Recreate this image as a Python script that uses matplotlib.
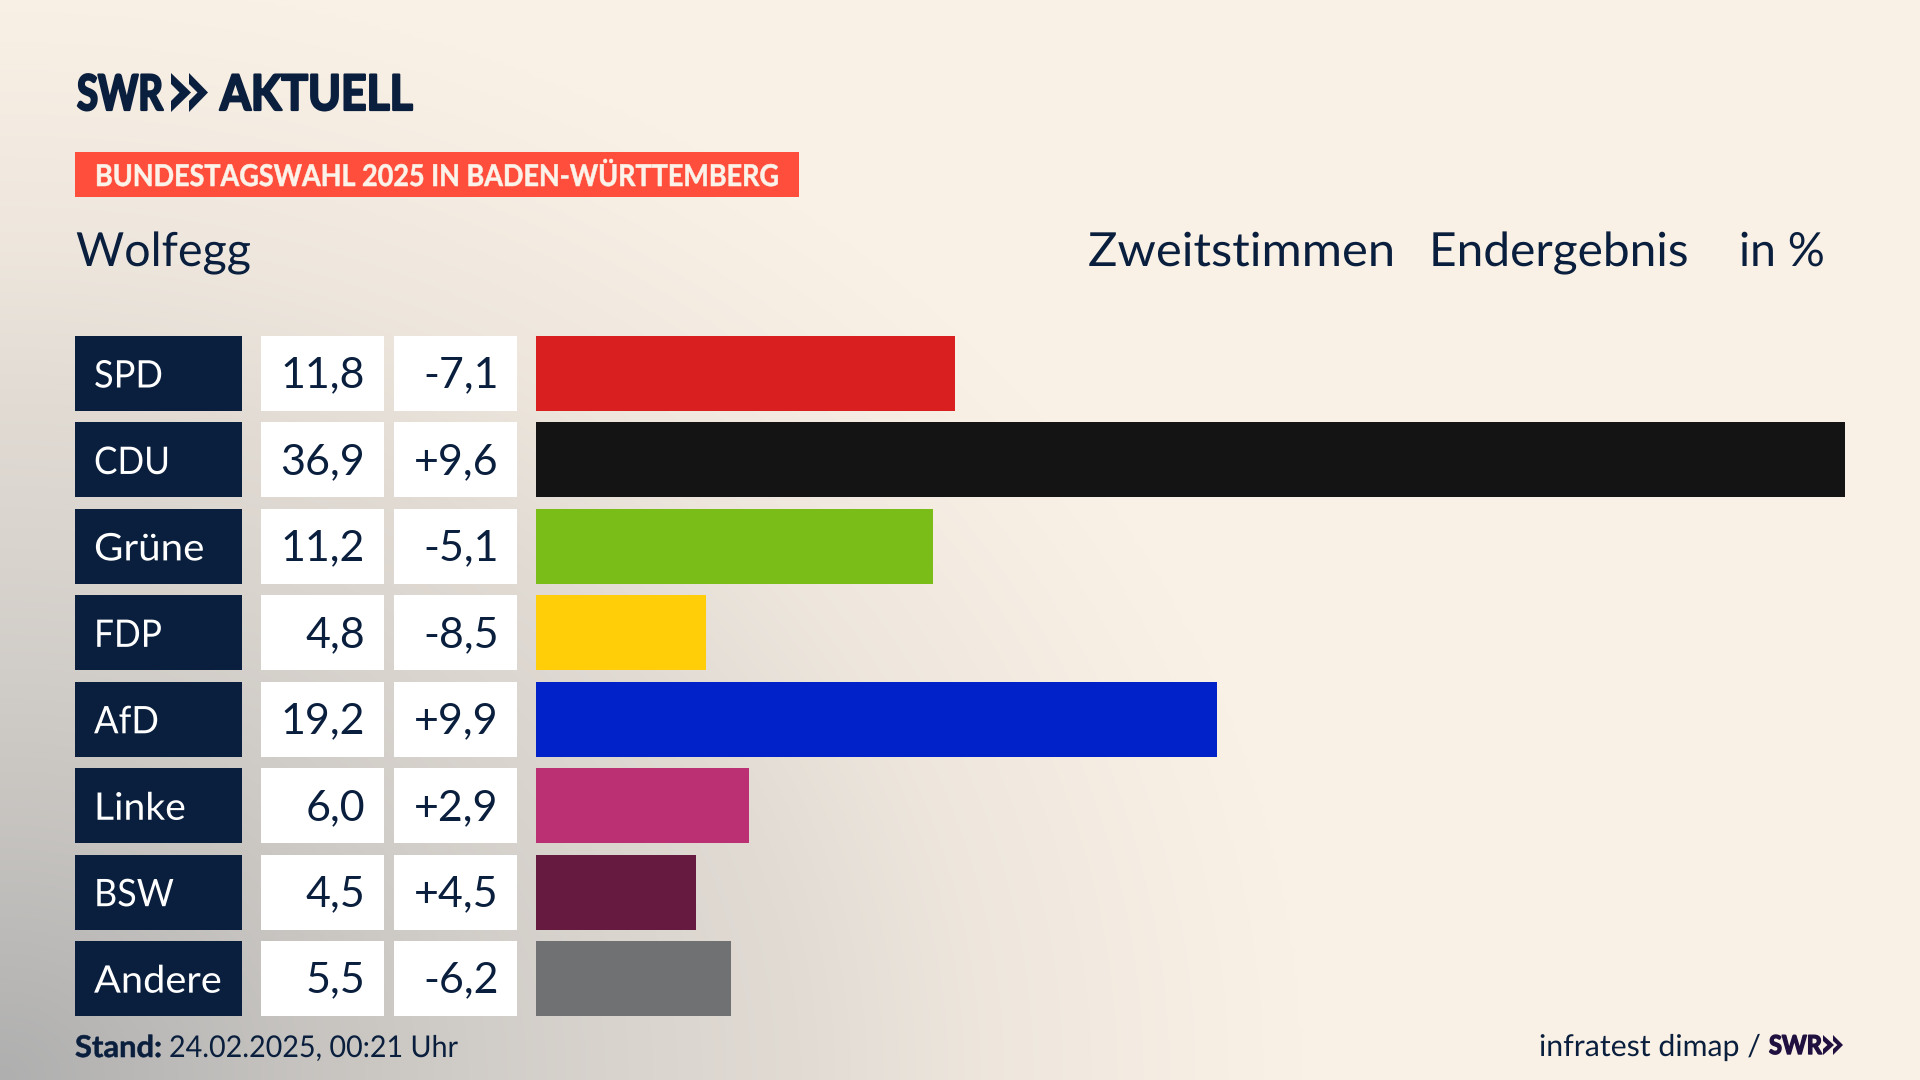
import numpy as np
import matplotlib
matplotlib.use("Agg")
import matplotlib.pyplot as plt
from matplotlib.patches import Rectangle, Polygon
from matplotlib.colors import to_rgb
from matplotlib.patheffects import AbstractPathEffect
from matplotlib.transforms import Affine2D

parties = ["SPD", "CDU", "Grüne", "FDP", "AfD", "Linke", "BSW", "Andere"]
shares = [11.8, 36.9, 11.2, 4.8, 19.2, 6.0, 4.5, 5.5]
changes = [-7.1, 9.6, -5.1, -8.5, 9.9, 2.9, 4.5, -6.2]
colors = ["#D91F1F", "#141414", "#7ABD18", "#FFCE09", "#0022C8", "#BB3073", "#671A3F", "#707173"]
label_right = [163, 170, 204.5, 162, 159, 186, 174, 222]

W, H = 1920, 1080
NAVY = "#0A1F3D"
PURPLE = "#1F1040"
FONT = "Lato"
px = 72 / 100

fig = plt.figure(figsize=(19.2, 10.8), dpi=100)
bg = fig.add_axes([0, 0, 1, 1])
bg.set_xlim(0, W); bg.set_ylim(H, 0); bg.axis("off")
renderer = fig.canvas.get_renderer()


class Squeeze(AbstractPathEffect):
    """Stretch a real text object horizontally about its left edge, optionally thickening it."""
    def __init__(self, x0, sx, stroke=0.0):
        super().__init__()
        self.x0, self.sx, self.stroke = x0, sx, stroke

    def draw_path(self, renderer, gc, tpath, affine, rgbFace=None):
        a = affine + Affine2D().translate(-self.x0, 0).scale(self.sx, 1).translate(self.x0, 0)
        gc2 = renderer.new_gc()
        gc2.copy_properties(gc)
        if self.stroke and rgbFace is not None:
            gc2.set_linewidth(self.stroke)
            gc2.set_foreground(rgbFace)
        renderer.draw_path(gc2, tpath, a, rgbFace)
        gc2.restore()


def fit(x0, x1, y, s, color=NAVY, size=30, weight="normal", stroke=0.0):
    t = bg.text(x0, y, s, color=color, fontsize=size * px, family=FONT, weight=weight,
                va="baseline", zorder=3)
    width = t.get_window_extent(renderer).width
    t.set_path_effects([Squeeze(x0, (x1 - x0) / width, stroke)])
    return t


# background: warm beige with a grey shade rising from the lower left corner
yy, xx = np.mgrid[0:H:270j, 0:W:480j]
d = np.sqrt((xx / 1300) ** 2 + ((H - yy) / 1100) ** 2)
a = np.interp(d, [0, .24, .47, .62, .76, 1.0], [1, .68, .45, .33, .16, 0])
base = np.array(to_rgb("#FAF1E6")); dark = np.array(to_rgb("#AFAFAF"))
img = base[None, None, :] * (1 - a[..., None]) + dark[None, None, :] * a[..., None]
bg.imshow(img, extent=(0, W, H, 0), aspect="auto", zorder=0, interpolation="bilinear")

# rows
row_top, pitch, row_h = 336.0, 86.45, 75.0
tops = [row_top + i * pitch for i in range(len(parties))]
for top, name, val, chg, rx in zip(tops, parties, shares, changes, label_right):
    bg.add_patch(Rectangle((75, top), 167, row_h, color=NAVY, lw=0, zorder=2))
    bg.add_patch(Rectangle((261, top), 123, row_h, color="white", lw=0, zorder=2))
    bg.add_patch(Rectangle((394, top), 123, row_h, color="white", lw=0, zorder=2))
    base_y = top + 51.5
    fit(94, rx, base_y, name, color="white", size=38)
    bg.text(365, base_y, f"{val:.1f}".replace(".", ","), color=NAVY, fontsize=43 * px, family=FONT,
            ha="right", va="baseline", zorder=3)
    bg.text(498.5, base_y, f"{chg:+.1f}".replace(".", ","), color=NAVY, fontsize=43 * px, family=FONT,
            ha="right", va="baseline", zorder=3)

# bars
h = row_h / pitch
ax = fig.add_axes([536 / W, 1 - (tops[-1] + row_h) / H, (1845 - 536) / W, (tops[-1] + row_h - row_top) / H])
ax.patch.set_alpha(0)
ax.barh(range(len(parties)), shares, height=h, color=colors, linewidth=0)
ax.set_xlim(0, max(shares)); ax.set_ylim(len(parties) - 1 + h / 2, -h / 2); ax.axis("off")


# logo chevrons
def chevron(L, y0, y1, w, notch, arm, color):
    mid = (y0 + y1) / 2
    bg.add_patch(Polygon([(L, y0), (L + w, mid), (L, y1), (L, y1 - arm), (L + notch, mid), (L, y0 + arm)],
                         closed=True, color=color, lw=0, zorder=3))


fit(77, 163, 110, "SWR", size=49, weight="bold", stroke=1.6)
chevron(171, 73, 112, 20, 8.5, 11, NAVY)
chevron(189, 73, 112, 19, 8.5, 11, NAVY)
fit(220, 413, 110, "AKTUELL", size=49, weight="bold", stroke=1.6)

# banner
bg.add_patch(Rectangle((75, 152), 724, 45, color="#FF4F3C", lw=0, zorder=2))
fit(95, 778, 186, "BUNDESTAGSWAHL 2025 IN BADEN-WÜRTTEMBERG", color="#FBF3E9", size=30, weight="bold", stroke=0.4)

# headers
fit(76, 251, 266, "Wolfegg", size=47)
fit(1088, 1395, 266, "Zweitstimmen", size=47)
fit(1429, 1689, 266, "Endergebnis", size=47)
fit(1739, 1825, 266, "in %", size=47)

# footer
fit(75, 162, 1057, "Stand:", size=30, weight="bold", stroke=0.4)
fit(169, 458, 1057, "24.02.2025, 00:21 Uhr", size=30)
fit(1539, 1761, 1056, "infratest dimap /", size=30)
fit(1769, 1822, 1054, "SWR", color=PURPLE, size=26, weight="bold", stroke=1.0)
chevron(1823, 1035, 1055, 11, 4.4, 6, PURPLE)
chevron(1833, 1035, 1055, 10, 4.4, 6, PURPLE)

fig.savefig("out.png", dpi=100)
